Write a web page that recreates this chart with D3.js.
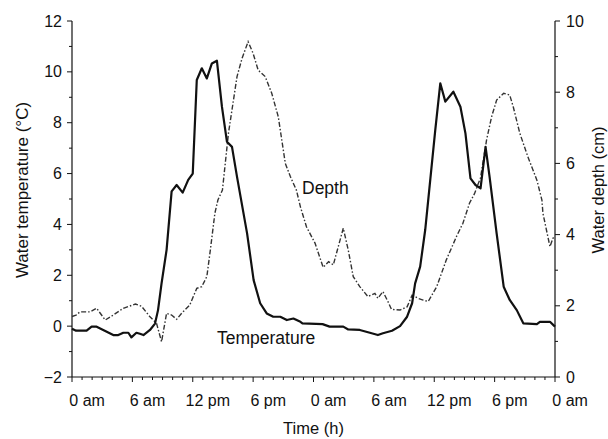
<!DOCTYPE html>
<html><head><meta charset="utf-8">
<script src="https://cdn.jsdelivr.net/npm/d3@7/dist/d3.min.js"></script>
<style>
body{margin:0;background:#fff;}
svg text{font-family:"Liberation Sans",Arial,Helvetica,sans-serif;fill:#111;}
</style></head>
<body><svg id="c" width="608" height="439"></svg>
<script>
// ---- data ----
const tempHours = [0,0.4,1.45,1.95,2.45,3.1,4.1,4.6,5.1,5.6,5.9,6.4,6.75,7.1,7.75,8.25,8.55,8.9,9.4,9.9,10.4,11.0,11.55,12.0,12.4,12.9,13.4,13.9,14.4,14.9,15.4,15.9,16.4,17.4,18.05,18.7,19.35,20.0,20.7,21.35,22.0,22.7,22.9,24.9,25.6,26.96,27.45,28.6,29.6,30.4,30.9,31.8,32.6,33.3,33.8,34.1,34.6,35.1,35.6,36.1,36.6,37.1,37.9,38.6,39.1,39.6,40.1,40.6,41.1,41.5,42.2,42.9,43.5,44.2,44.85,46.2,46.5,47.5,48];
const tempValues = [-0.1,-0.18,-0.18,-0.02,-0.02,-0.15,-0.35,-0.35,-0.26,-0.26,-0.44,-0.26,-0.3,-0.35,-0.15,0.1,0.63,1.68,3.0,5.3,5.55,5.25,5.75,6.0,9.68,10.14,9.74,10.33,10.44,8.63,7.25,7.05,5.87,3.65,1.81,0.9,0.5,0.37,0.37,0.24,0.3,0.17,0.11,0.08,-0.02,-0.02,-0.13,-0.15,-0.26,-0.35,-0.28,-0.18,0,0.37,0.9,1.68,2.34,3.78,5.74,7.71,9.55,8.83,9.22,8.63,7.58,5.81,5.55,5.42,7.05,5.87,3.65,1.55,1.03,0.63,0.11,0.08,0.17,0.17,-0.02];
const depthHours = [0,0.4,0.8,1.8,2.45,3.3,4.1,5.1,6.3,6.9,7.75,8.4,8.9,9.4,9.9,10.4,10.9,11.7,12.4,12.9,13.4,13.75,14.2,14.5,14.95,15.55,16.4,16.9,17.5,18.0,18.5,19.2,19.85,20.5,21.2,21.7,22.3,22.7,23.3,24.15,24.96,25.5,25.97,26.96,27.45,27.95,28.6,29.4,30.1,30.4,30.9,31.4,31.75,32.6,33.3,33.8,34.4,34.9,35.4,36.25,37.2,38.2,38.85,39.5,40.0,40.6,41.2,41.7,42.2,42.9,43.5,43.85,44.5,45.3,46.2,46.7,46.8,47.5,47.8,48];
const depthValues = [1.7,1.74,1.83,1.83,1.93,1.6,1.74,1.93,2.05,1.99,1.69,1.51,0.99,1.79,1.74,1.62,1.79,2.02,2.49,2.54,2.82,3.57,4.6,4.97,5.25,6.85,8.44,8.95,9.42,9.09,8.62,8.44,7.97,7.31,6.0,5.63,5.25,4.78,4.22,3.76,3.08,3.24,3.15,4.18,3.57,2.82,2.54,2.26,2.35,2.21,2.4,2.12,1.9,1.88,1.97,2.3,2.21,2.16,2.12,2.54,3.29,3.94,4.32,4.88,5.15,5.6,6.66,7.31,7.78,7.97,7.92,7.59,6.85,6.19,5.53,4.97,4.6,3.66,3.9,3.95];
const xTickHours = [0,6,12,18,24,30,36,42,48];
const xTickLabels = ["0 am","6 am","12 pm","6 pm","0 am","6 am","12 pm","6 pm","0 am"];
const tempTicks = [-2,0,2,4,6,8,10,12];
const depthTicks = [0,2,4,6,8,10];

// ---- layout ----
const L=72,R=555,T=21,B=377;
const svg=d3.select("#c");
const x=d3.scaleLinear().domain([0,48]).range([L,R]);
const yT=d3.scaleLinear().domain([-2,12]).range([B,T]);
const yD=d3.scaleLinear().domain([0,10]).range([B,T]);

// axes lines
const ax=svg.append("g").attr("stroke","#111").attr("stroke-width",1.2);
ax.append("line").attr("x1",L).attr("x2",L).attr("y1",T).attr("y2",B);
ax.append("line").attr("x1",R).attr("x2",R).attr("y1",T).attr("y2",B);
ax.append("line").attr("x1",L).attr("x2",R).attr("y1",B).attr("y2",B);

// x ticks
const xMinor=d3.range(0,49,1);
ax.selectAll(".xm").data(xMinor).join("line")
  .attr("x1",d=>x(d)).attr("x2",d=>x(d)).attr("y1",B).attr("y2",d=>B+(d%6===0?5:3))
  .attr("stroke-width",1);
svg.selectAll(".xl").data(xTickHours).join("text")
  .attr("x",d=>x(d+1.5)).attr("y",406).attr("text-anchor","middle").attr("font-size",16)
  .text((d,i)=>xTickLabels[i]);

// left ticks
const tMinor=d3.range(-2,12.5,1);
ax.selectAll(".tm").data(tMinor).join("line")
  .attr("x1",L).attr("x2",d=>L-(d%2===0?5:3)).attr("y1",d=>yT(d)).attr("y2",d=>yT(d))
  .attr("stroke-width",1);
svg.selectAll(".tl").data(tempTicks).join("text")
  .attr("x",62).attr("y",d=>yT(d)+5.5).attr("text-anchor","end").attr("font-size",16)
  .text(d=>d<0?"\u2212"+Math.abs(d):d);

// right ticks
const dMinor=d3.range(0,10.5,1);
ax.selectAll(".dm").data(dMinor).join("line")
  .attr("x1",R).attr("x2",d=>R+(d%2===0?5:3)).attr("y1",d=>yD(d)).attr("y2",d=>yD(d))
  .attr("stroke-width",1);
svg.selectAll(".dl").data(depthTicks).join("text")
  .attr("x",566).attr("y",d=>yD(d)+5.5).attr("text-anchor","start").attr("font-size",16)
  .text(d=>d);

// titles
svg.append("text").attr("x",(L+R)/2).attr("y",434).attr("text-anchor","middle").attr("font-size",16.5).text("Time (h)");
svg.append("text").attr("transform","translate(28,190) rotate(-90)").attr("text-anchor","middle").attr("font-size",17)
  .text("Water temperature (°C)");
svg.append("text").attr("transform","translate(604,190) rotate(-90)").attr("text-anchor","middle").attr("font-size",16.5)
  .text("Water depth (cm)");

// lines
const depthData=depthHours.map((h,i)=>[h,depthValues[i]]);
const tempData=tempHours.map((h,i)=>[h,tempValues[i]]);
svg.append("path").datum(depthData)
  .attr("d",d3.line().x(d=>x(d[0])).y(d=>yD(d[1])))
  .attr("fill","none").attr("stroke","#333").attr("stroke-width",1.4)
  .attr("stroke-dasharray","5,2,1.5,2");
svg.append("path").datum(tempData)
  .attr("d",d3.line().x(d=>x(d[0])).y(d=>yT(d[1])))
  .attr("fill","none").attr("stroke","#111").attr("stroke-width",2.2).attr("stroke-linejoin","round");

// annotations
svg.append("text").attr("x",302).attr("y",194).attr("font-size",17.5).text("Depth");
svg.append("text").attr("x",217).attr("y",344).attr("font-size",17.5).text("Temperature");
</script></body></html>
